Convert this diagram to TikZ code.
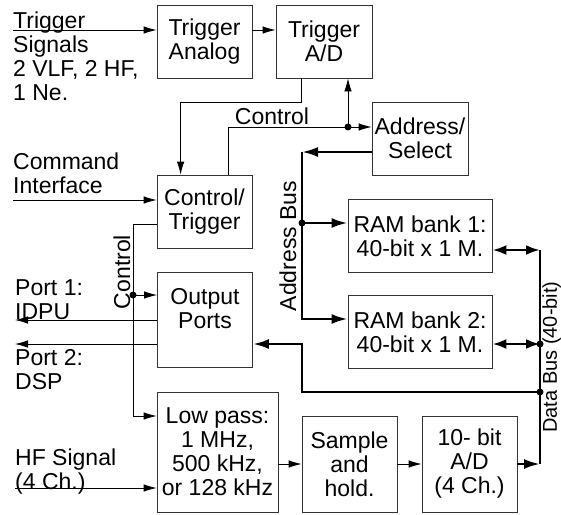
\documentclass[tikz,border=0pt]{standalone}
\usepackage{fontspec}
\setmainfont{Liberation Sans}
\usetikzlibrary{arrows.meta,positioning}
\newcommand\dfont{\fontsize{23}{24}\selectfont}

\begin{document}
\begin{tikzpicture}[x=1pt,y=-1pt,
    blk/.style={draw=black!80,line width=0.8pt,inner sep=0pt,align=center,font=\dfont},
    txt/.style={inner sep=0pt,align=left,anchor=north west,font=\dfont},
    lbl/.style={inner sep=0pt,font=\dfont},
    sig/.style={-{Latex[length=13pt,width=7.5pt]},line width=0.8pt},
    busln/.style={line width=2.6pt},
    busarr/.style={-{Latex[length=16pt,width=10pt]},line width=2.6pt},
    dbl/.style={{Latex[length=14pt,width=10pt]}-{Latex[length=14pt,width=10pt]},line width=2.6pt},
    jdot/.style={circle,fill,inner sep=0pt,minimum size=7pt}
  ]
    \useasboundingbox (0,0) rectangle (561,514);

    % blocks
    \node[blk,minimum width=95pt,minimum height=73pt] (trigana) at (204.5,41.5) {Trigger\\Analog};
    \node[blk,minimum width=96pt,minimum height=73pt] (trigad) at (324,41.5) {Trigger\\A/D};
    \node[blk,minimum width=96pt,minimum height=73pt] (addrsel) at (420,138.5) {Address/\\Select};
    \node[blk,minimum width=95pt,minimum height=73pt] (ctrltrig) at (204.5,211.5) {Control/\\Trigger};
    \node[blk,minimum width=95pt,minimum height=95pt] (outports) at (205,320) {Output\\Ports\\[0pt]\mbox{}};
    \node[blk,minimum width=121pt,minimum height=120pt] (lowpass) at (217.5,452) {Low pass:\\1 MHz,\\500 kHz,\\or 128 kHz};
    \foreach \n/\y in {1/236,2/332}{
      \node[blk,minimum width=144pt,minimum height=73pt] (ram\n) at (420,\y) {RAM bank \n:\\40-bit x 1 M.};
    }
    \node[blk,minimum width=95pt,minimum height=96pt] (samphold) at (349.5,464) {Sample\\and\\hold.};
    \node[blk,minimum width=95pt,minimum height=96pt] (adc) at (469.5,464) {10- bit\\A/D\\(4 Ch.)};

    % outside texts
    \node[txt] (trigtxt) at (13,12) {Trigger\\Signals\\2 VLF, 2 HF,\\1 Ne.};
    \node[txt] (cmdtxt) at (13,153) {Command\\Interface};
    \node[txt] (p1txt) at (15,279) {Port 1:\\IDPU};
    \node[txt] (p2txt) at (15,349) {Port 2:\\DSP};
    \node[txt] (hftxt) at (15,449) {HF Signal\\(4 Ch.)};
    \node[lbl] (ctrlh) at (272,116) {Control};
    \node[lbl,rotate=90] (ctrlv) at (122,272) {Control};
    \node[lbl,rotate=90] (abus) at (288,246) {Address Bus};
    \node[lbl,rotate=90,font=\fontsize{20}{21}\selectfont] (dbus) at (551.6,357) {Data Bus (40-bit)};

    % junction points
    \coordinate (trigin) at (13,30);
    \coordinate (cmdin) at (13,200);
    \coordinate (hfin) at (15,488);
    \coordinate (p1) at (15,320);
    \coordinate (p2) at (15,344);
    \coordinate (cdot) at (348,127);
    \coordinate (c1) at (133,224);
    \coordinate (c2) at (133,416);
    \coordinate (odot) at (133,295);
    \coordinate (atop) at (302,152);
    \coordinate (a1) at (302,223);
    \coordinate (abot) at (302,319);
    \coordinate (dtop) at (540,250);
    \coordinate (d2) at (540,344);
    \coordinate (d3) at (540,392);
    \coordinate (ob) at (302,392);

    % thin signals
    \draw[sig] (trigin) -- (trigana.west |- trigin);
    \draw[sig] (trigana.east |- trigin) -- (trigad.west |- trigin);
    \draw[sig] ([xshift=26pt]trigad.south west) -- ++(0,24) -| ([xshift=24pt]ctrltrig.north west);
    \draw[sig] ([xshift=-24pt]ctrltrig.north east) |- (addrsel.west |- cdot);
    \draw[sig] (cdot) -- (cdot |- trigad.south);
    \node[jdot] at (cdot) {};
    \draw[sig] (cmdin) -- (ctrltrig.west |- cmdin);
    \draw[sig] (ctrltrig.west |- c1) -- (c1) -- (c2) -- (lowpass.west |- c2);
    \draw[sig] (odot) -- (outports.west |- odot);
    \node[jdot] at (odot) {};
    \draw[sig] (outports.west |- p1) -- (p1);
    \draw[sig] (outports.west |- p2) -- (p2);
    \draw[sig] (hfin) -- (lowpass.west |- hfin);
    \draw[sig] (lowpass.east |- samphold.west) -- (samphold.west);
    \draw[sig] (samphold) -- (adc);

    % buses
    \draw[busarr] (addrsel.west |- atop) -- (atop);
    \draw[busarr] (atop) -- (abot) -- (ram2.west |- abot);
    \draw[busarr] (a1) -- (ram1.west |- a1);
    \node[jdot] at (a1) {};
    \draw[busln] (dtop) -- (dtop |- adc.east);
    \draw[busarr] (adc.east) -- (adc.east -| dtop);
    \draw[dbl] (ram1.east |- dtop) -- (dtop);
    \draw[dbl] (ram2.east |- d2) -- (d2);
    \node[jdot] at (d2) {};
    \draw[busarr] (d3) -- (ob) -- (ob |- p2) -- (outports.east |- p2);
    \node[jdot] at (d3) {};
\end{tikzpicture}
\end{document}
